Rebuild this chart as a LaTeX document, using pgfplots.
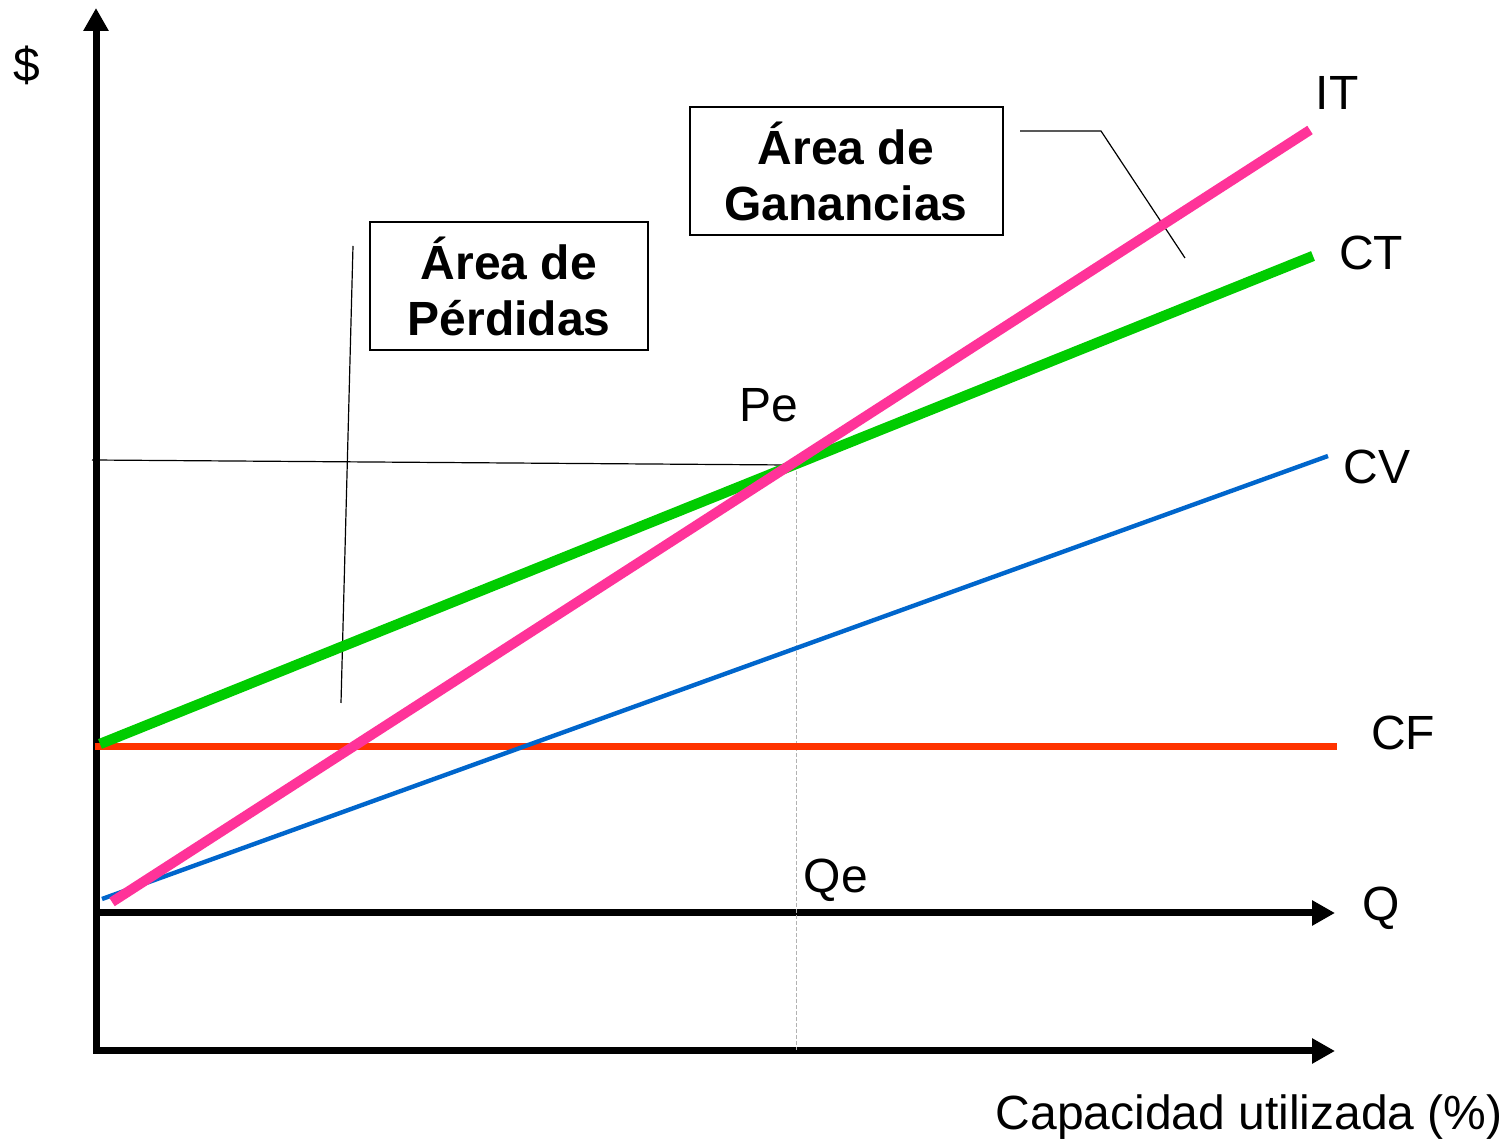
\documentclass[border=0pt]{standalone}
\usepackage{pgfplots}
\pgfplotsset{compat=1.18}
\usetikzlibrary{arrows.meta}
\usepackage{fontspec}
\setmainfont{Liberation Sans}
\definecolor{cfred}{HTML}{FF3300}
\definecolor{ctgreen}{HTML}{00CC00}
\definecolor{itpink}{HTML}{FF3399}
\definecolor{cvblue}{HTML}{0066CC}
\begin{document}
\begin{tikzpicture}[lbl/.style={font=\fontsize{24}{27.5}\selectfont}]
\begin{axis}[
    hide axis,
    scale only axis,
    width=755.5pt, height=573pt,
    xmin=0, xmax=1511, ymin=0, ymax=1146,
    clip=false,
    axarrow/.style={line width=3.5pt, -{Triangle[length=11.5pt,width=12pt]}},
]
% page frame
\path (axis cs:0,0) rectangle (axis cs:1511,1146);

% axes
\addplot[axarrow] coordinates {(96,96) (96,1138)};
\addplot[axarrow] coordinates {(93,95) (1335,95)};
\addplot[axarrow] coordinates {(93,233) (1335,233)};

% guide lines
\addplot[black, line width=0.6pt] coordinates {(92,686) (787,681)};
\addplot[gray!60, line width=0.5pt, dash pattern=on 2pt off 1pt] coordinates {(796,681) (796,96)};
\addplot[black, line width=0.6pt] coordinates {(353,900) (341,443)};
\addplot[black, line width=0.6pt] coordinates {(1020,1015) (1101,1015) (1185,888)};

% cost and revenue lines
\addplot[cfred, line width=3.5pt] coordinates {(95,399) (1337,399)};
\addplot[cvblue, line width=2.2pt] coordinates {(102,247) (1328,690)};
\addplot[ctgreen, line width=5.2pt] coordinates {(100,402) (1313,890)};
\addplot[itpink, line width=5pt] coordinates {(112,244) (1310,1016)};

% boxes
\draw[line width=0.75pt, fill=white] (axis cs:370,924) rectangle (axis cs:648,796);
\draw[line width=0.75pt, fill=white] (axis cs:690,1039) rectangle (axis cs:1003,911);
\node[align=center, font=\fontsize{24}{28}\selectfont\bfseries] at (axis cs:509,860) {Área de\\Pérdidas};
\node[align=center, font=\fontsize{24}{28}\selectfont\bfseries] at (axis cs:846,975) {Área de\\Ganancias};

% labels
\node[lbl] at (axis cs:27,1081) {\$};
\node[lbl] at (axis cs:1337,1053) {IT};
\node[lbl] at (axis cs:1371,893) {CT};
\node[lbl] at (axis cs:769,741) {Pe};
\node[lbl] at (axis cs:1377,679) {CV};
\node[lbl] at (axis cs:1403,413) {CF};
\node[lbl] at (axis cs:836,266) {Qe};
\node[lbl] at (axis cs:1381,238) {Q};
\node[lbl, anchor=east, inner sep=0pt] at (axis cs:1503,29) {Capacidad utilizada (\%)};
\end{axis}
\end{tikzpicture}
\end{document}
